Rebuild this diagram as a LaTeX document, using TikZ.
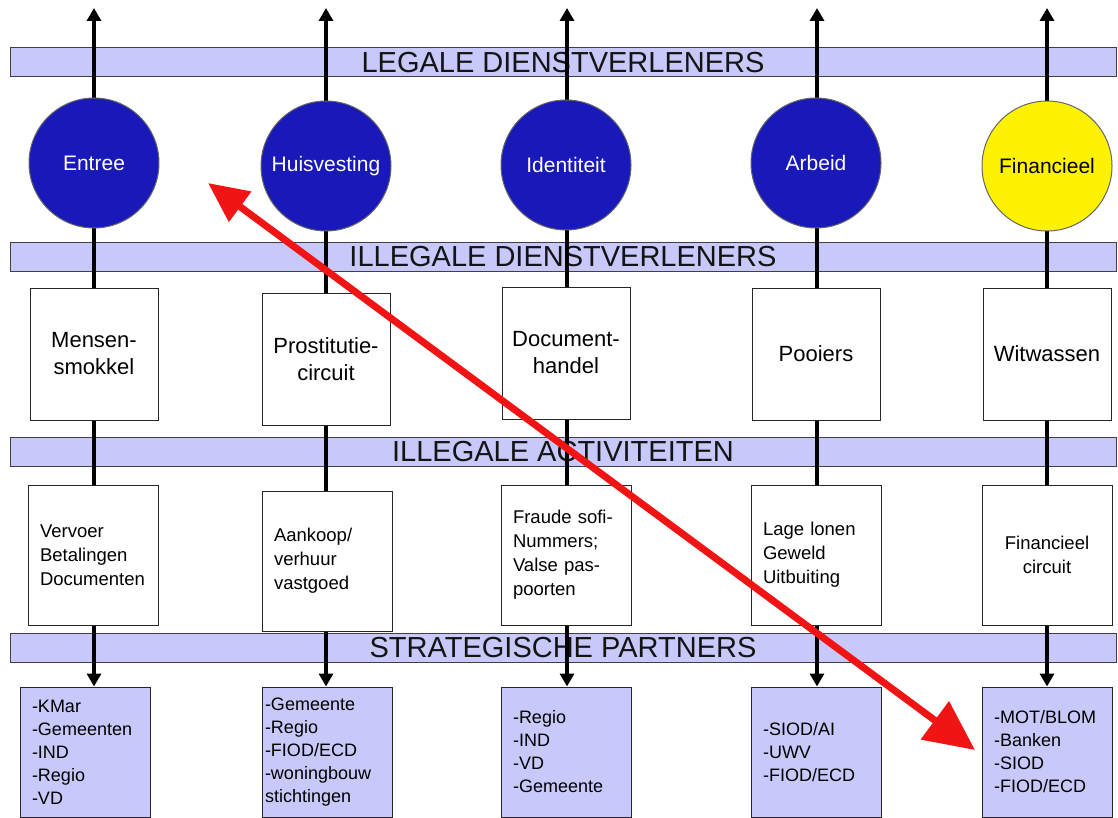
\documentclass[tikz,border=0pt]{standalone}
\usepackage{fontspec}
\setmainfont{Liberation Sans}
\usetikzlibrary{arrows.meta}
\pgfdeclarelayer{back}
\pgfdeclarelayer{lines}
\pgfsetlayers{back,lines,main}
\definecolor{bandblue}{RGB}{200,200,250}
\definecolor{dotblue}{RGB}{25,25,185}
\definecolor{rood}{RGB}{240,20,20}

\tikzset{
  band/.style={draw=black!75, fill=bandblue, line width=1pt, minimum width=1106pt, minimum height=29pt, inner sep=0pt, text=black!92, font=\fontsize{29}{29}\selectfont},
  dienst/.style={circle, draw=black!60, line width=1pt, fill=dotblue, text=white, minimum size=130pt, inner sep=0pt, font=\fontsize{21}{24}\selectfont},
  speler/.style={draw=black!85, fill=white, line width=1pt, minimum width=128pt, minimum height=132pt, inner sep=0pt, align=center, font=\fontsize{22}{27}\selectfont},
  activiteit/.style={draw=black!85, fill=white, line width=1pt, minimum width=130pt, minimum height=140pt, inner sep=0pt, text width=106pt, align=left, font=\fontsize{18.5}{24}\selectfont},
  partner/.style={draw=black!85, fill=bandblue, line width=1pt, minimum width=130pt, minimum height=130pt, inner sep=0pt, text width=106pt, align=left, font=\fontsize{18}{23}\selectfont},
  stroom/.style={line width=3.5pt, arrows={Triangle[length=13pt,width=14pt]-Triangle[length=13pt,width=14pt]}},
  roodpijl/.style={rood, line width=7pt, arrows={Triangle[length=40pt,width=36pt]-Triangle[length=50pt,width=46pt]}}
}

\begin{document}
\begin{tikzpicture}[x=1pt,y=-1pt]
\useasboundingbox (0,0) rectangle (1118,818);

\begin{pgfonlayer}{back}
\node[band] (legaal) at (563,62.5) {LEGALE DIENSTVERLENERS};
\node[band] (illdienst) at (563,257) {ILLEGALE DIENSTVERLENERS};
\node[band] (illact) at (563,452) {ILLEGALE ACTIVITEITEN};
\node[band] (partners) at (563,648) {STRATEGISCHE PARTNERS};
\end{pgfonlayer}

% diensten
\node[dienst] (entree) at (94,163) {Entree};
\node[dienst] (huis) at (326,166) {Huisvesting};
\node[dienst] (ident) at (566,165) {Identiteit};
\node[dienst] (arbeid) at (816,163) {Arbeid};
\node[dienst, fill=yellow, text=black] (fin) at (1047,166) {Financieel};

% illegale dienstverleners
\node[speler] (smokkel) at (94,354) {Mensen-\\smokkel};
\node[speler] (prost) at (326,359) {Prostitutie-\\circuit};
\node[speler] (doc) at (566,353) {Document-\\handel};
\node[speler] (pooiers) at (816,354) {Pooiers};
\node[speler] (witwas) at (1047,354) {Witwassen};

% activiteiten
\node[activiteit] (vervoer) at (93,555) {Vervoer\\Betalingen\\Documenten};
\node[activiteit] (aankoop) at (327,561) {Aankoop/\\verhuur\\vastgoed};
\node[activiteit] (fraude) at (566,555) {Fraude sofi-\\Nummers;\\Valse pas-\\poorten};
\node[activiteit] (lonen) at (816,555) {Lage lonen\\Geweld\\Uitbuiting};
\node[activiteit, align=center] (fincirc) at (1047,555) {Financieel\\circuit};

% partners
\node[partner] (p1) at (85,752) {-KMar\\-Gemeenten\\-IND\\-Regio\\-VD};
\node[partner, text width=124pt] (p2) at (327,752) {-Gemeente\\-Regio\\-FIOD/ECD\\\mbox{-woningbouw}\\stichtingen};
\node[partner] (p3) at (566,752) {-Regio\\-IND\\-VD\\-Gemeente};
\node[partner] (p4) at (816,752) {-SIOD/AI\\-UWV\\-FIOD/ECD};
\node[partner] (p5) at (1047,752) {-MOT/BLOM\\-Banken\\-SIOD\\-FIOD/ECD};

\coordinate (top1) at (94,8);
\coordinate (top2) at (326,8);
\coordinate (top3) at (567,8);
\coordinate (top4) at (817,8);
\coordinate (top5) at (1047,8);

\begin{pgfonlayer}{lines}
\foreach \i in {1,...,5}
  \draw[stroom] (top\i) -- (p\i.north -| top\i);
\end{pgfonlayer}

\coordinate (rood1) at (208,183);
\coordinate (rood2) at (975,750);
\draw[roodpijl] (rood1) -- (rood2);
\end{tikzpicture}
\end{document}
